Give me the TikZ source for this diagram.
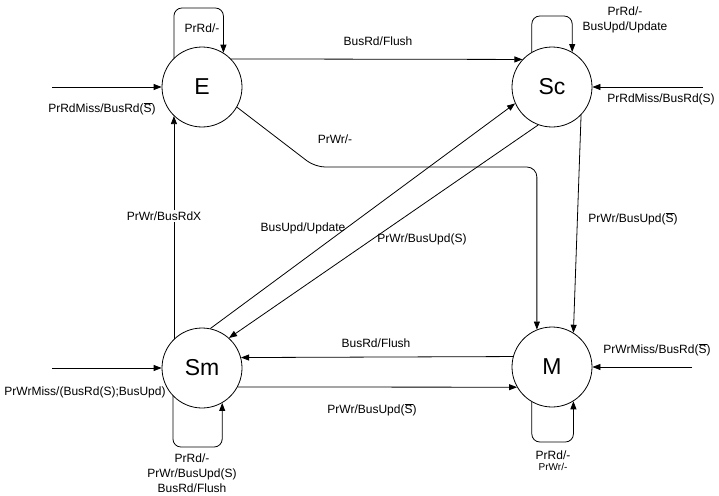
\documentclass[tikz,border=0pt]{standalone}
\usepackage{fontspec}
\setmainfont{Liberation Sans}
\usetikzlibrary{arrows.meta}
\newcommand\sbarS{$\overline{\mbox{S}}$}
\begin{document}
\begin{tikzpicture}[x=1pt,y=-1pt,
  state/.style={circle,draw,line width=0.8pt,minimum size=80pt,inner sep=0pt,font=\fontsize{23}{26}\selectfont},
  conn/.style={line width=0.8pt,-{Triangle[length=8pt,width=6pt]}},
  lbl/.style={font=\fontsize{12}{15}\selectfont,inner sep=0pt,align=center}]
\useasboundingbox (0,0) rectangle (719,495);
\node[state] (E) at (202,87) {E};
\node[state] (Sc) at (552,87) {Sc};
\node[state] (Sm) at (202,368) {Sm};
\node[state] (M) at (552,367) {M};
% self loops
\coordinate (eTop) at (200,8);
\coordinate (scTop) at (552,16);
\coordinate (smBot) at (198,447);
\coordinate (mBot) at (552,442);
\draw[conn,rounded corners=8pt] (E.134) |- (eTop) -| (E.58);
\draw[conn,rounded corners=8pt] (Sc.120) |- (scTop) -| (Sc.60);
\draw[conn,rounded corners=8pt] (Sm.-136) |- (smBot) -| (Sm.-60);
\draw[conn,rounded corners=8pt] (M.-120) |- (mBot) -| (M.-58);
% incoming
\coordinate (eIn) at (52,87);
\coordinate (scIn) at (703,87);
\coordinate (smIn) at (52,368);
\coordinate (mIn) at (692,367);
\draw[conn] (eIn) -- (E.west);
\draw[conn] (scIn) -- (Sc.east);
\draw[conn] (smIn) -- (Sm.west);
\draw[conn] (mIn) -- (M.east);
% transitions
\coordinate (ewBend) at (315,167);
\draw[conn,rounded corners=10pt] (E.-30) -- (ewBend) -| (M.112);
\draw[conn] (E.44) -- (Sc.137);
\draw[conn] (Sm.78) -- (Sc.204);
\draw[conn] (Sc.-110) -- (Sm.48);
\draw[conn] (Sm.134) -- (E.-134);
\draw[conn] (Sc.-44) -- (M.58);
\draw[conn] (M.165) -- (Sm.15);
\draw[conn] (Sm.-28) -- (M.-150);
% labels
\node[lbl] (l1) at (202,28) {PrRd/-};
\node[lbl] (l2) at (102,109) {PrRdMiss/BusRd(\sbarS)};
\node[lbl] (l3) at (378,41) {BusRd/Flush};
\node[lbl] (l4) at (625,20) {PrRd/-\\BusUpd/Update};
\node[lbl] (l5) at (661,99) {PrRdMiss/BusRd(S)};
\node[lbl] (l6) at (335,139) {PrWr/-};
\node[lbl] (l7) at (303,228) {BusUpd/Update};
\node[lbl] (l8) at (422,239) {PrWr/BusUpd(S)};
\node[lbl] (l9) at (633,219) {PrWr/BusUpd(\sbarS)};
\node[lbl,fill=white,inner ysep=2pt] (l10) at (164,216) {PrWr/BusRdX};
\node[lbl] (l11) at (376,343) {BusRd/Flush};
\node[lbl] (l12) at (372,410) {PrWr/BusUpd(\sbarS)};
\node[lbl] (l13) at (85,392) {PrWrMiss/(BusRd(S);BusUpd)};
\node[lbl] (l14) at (192,473) {PrRd/-\\PrWr/BusUpd(S)\\BusRd/Flush};
\node[lbl] (l15) at (657,350) {PrWrMiss/BusRd(\sbarS)};
\node[lbl] (l16) at (553,455) {PrRd/-};
\node[lbl,font=\fontsize{10}{12}\selectfont] (l17) at (553,467) {PrWr/-};
\end{tikzpicture}
\end{document}
